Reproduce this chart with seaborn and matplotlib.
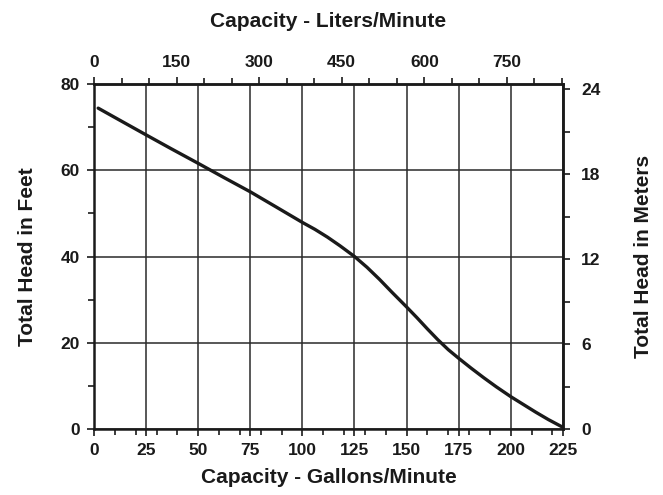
import numpy as np
import pandas as pd
import matplotlib
matplotlib.use("Agg")
import matplotlib.pyplot as plt
import seaborn as sns
from matplotlib.ticker import MultipleLocator

# pump curve (gallons/minute vs feet of head)
gpm = [2, 12, 25, 37, 50, 62, 75, 87, 100, 106, 112, 118, 125, 131, 137, 143, 150, 155, 160, 165, 170, 175, 181, 187, 193, 200, 206, 212, 218, 225]
head_ft = [74.4, 71.7, 68.2, 65.0, 61.6, 58.4, 55.0, 51.6, 47.9, 46.3, 44.5, 42.5, 40.0, 37.5, 34.7, 31.7, 28.3, 25.8, 23.2, 20.7, 18.4, 16.4, 14.1, 11.9, 9.8, 7.5, 5.7, 3.9, 2.2, 0.4]

gal_ticks = [0, 25, 50, 75, 100, 125, 150, 175, 200, 225]
ft_ticks = [0, 20, 40, 60, 80]
lpm_ticks = [0, 150, 300, 450, 600, 750]
m_ticks = [0, 6, 12, 18, 24]

L_PER_GAL = 3.78541
M_PER_FT = 0.3048

df = pd.DataFrame({"gpm": gpm, "ft": head_ft})

sns.set_style("ticks")
plt.rcParams["font.family"] = ["Liberation Sans", "DejaVu Sans"]
plt.rcParams["font.weight"] = "bold"

INK = "#1a1a1a"
TICK_FS = 12.5
LABEL_FS = 15

fig = plt.figure(figsize=(6.63, 4.95), dpi=100)
ax = fig.add_axes([0.1418, 0.1333, 0.7072, 0.697])

sns.lineplot(data=df, x="gpm", y="ft", ax=ax, color=INK, linewidth=2.4, zorder=3)

ax.set_xlim(0, 225)
ax.set_ylim(0, 80)
ax.set_xticks(gal_ticks)
ax.set_yticks(ft_ticks)
ax.xaxis.set_minor_locator(MultipleLocator(10))
ax.yaxis.set_minor_locator(MultipleLocator(10))
ax.grid(True, which="major", color="#2a2a2a", linewidth=1.1)
ax.set_axisbelow(True)

for s in ax.spines.values():
    s.set_linewidth(1.8)
    s.set_color(INK)

tick_kw = dict(labelsize=TICK_FS, colors=INK, width=1.2)
ax.tick_params(which="major", length=5, pad=5, **tick_kw)
ax.tick_params(which="minor", length=4, width=1.2, colors=INK)
for lab in ax.get_xticklabels() + ax.get_yticklabels():
    lab.set_fontweight("bold")

ax.set_xlabel("Capacity - Gallons/Minute", fontsize=LABEL_FS, fontweight="bold", color=INK, labelpad=7)
ax.set_ylabel("Total Head in Feet", fontsize=LABEL_FS, fontweight="bold", color=INK, labelpad=17)

# top axis in liters/minute
top = ax.secondary_xaxis("top", functions=(lambda x: x * L_PER_GAL, lambda x: x / L_PER_GAL))
top.set_xticks(lpm_ticks)
top.xaxis.set_minor_locator(MultipleLocator(50))
top.tick_params(which="major", length=5, pad=5, **tick_kw)
top.tick_params(which="minor", length=4, width=1.2, colors=INK)
top.spines["top"].set_linewidth(1.8)
top.set_xlabel("Capacity - Liters/Minute", fontsize=LABEL_FS, fontweight="bold", color=INK, labelpad=20)
for lab in top.get_xticklabels():
    lab.set_fontweight("bold")

# right axis in meters
right = ax.secondary_yaxis("right", functions=(lambda y: y * M_PER_FT, lambda y: y / M_PER_FT))
right.set_yticks(m_ticks)
right.yaxis.set_minor_locator(MultipleLocator(3))
right.tick_params(which="major", length=5, pad=8, **tick_kw)
right.tick_params(which="minor", length=5, width=1.2, colors=INK)
right.spines["right"].set_linewidth(1.8)
right.set_ylabel("Total Head in Meters", fontsize=LABEL_FS, fontweight="bold", color=INK, labelpad=24)
for lab in right.get_yticklabels():
    lab.set_fontweight("bold")

fig.savefig("out.png", dpi=100)
